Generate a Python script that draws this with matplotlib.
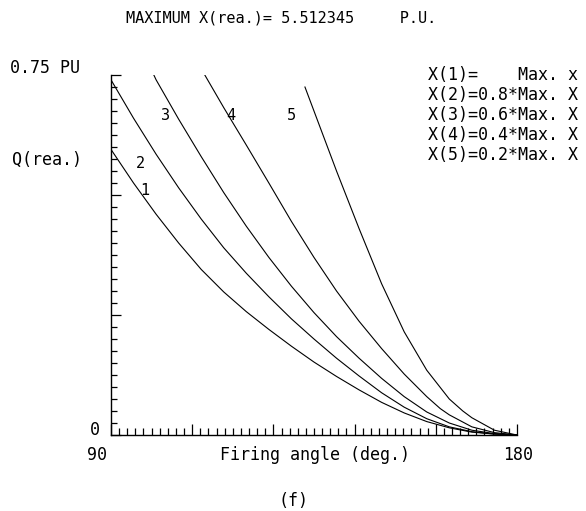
import matplotlib
matplotlib.use("Agg")
import matplotlib.pyplot as plt
import numpy as np

# firing angle (deg) and Q(rea.) in P.U.
ang1 = [90, 95, 100, 105, 110, 115, 120, 125, 130, 135, 140, 145, 150, 155, 160, 165, 170, 175, 180]
q1 = [0.595, 0.525, 0.46, 0.4, 0.345, 0.298, 0.257, 0.22, 0.185, 0.152, 0.122, 0.094, 0.068, 0.046, 0.028, 0.015, 0.006, 0.002, 0.0]
ang2 = [90, 95, 100, 105, 110, 115, 120, 125, 130, 135, 140, 145, 150, 155, 160, 165, 170, 175, 180]
q2 = [0.74, 0.66, 0.585, 0.515, 0.45, 0.39, 0.337, 0.288, 0.242, 0.2, 0.16, 0.123, 0.088, 0.058, 0.034, 0.017, 0.007, 0.002, 0.0]
ang3 = [99.5, 100, 105, 110, 115, 120, 125, 130, 135, 140, 145, 150, 155, 160, 165, 170, 175, 180]
q3 = [0.75, 0.74, 0.658, 0.58, 0.505, 0.435, 0.37, 0.31, 0.255, 0.205, 0.16, 0.118, 0.08, 0.048, 0.025, 0.01, 0.003, 0.0]
ang4 = [110.8, 115, 120, 125, 130, 135, 140, 145, 150, 155, 160, 163, 165, 170, 175, 180]
q4 = [0.75, 0.682, 0.604, 0.525, 0.445, 0.37, 0.3, 0.237, 0.18, 0.127, 0.08, 0.055, 0.042, 0.017, 0.005, 0.0]
ang5 = [133, 135, 140, 145, 150, 155, 160, 165, 168, 170, 175, 180]
q5 = [0.725, 0.675, 0.55, 0.43, 0.315, 0.215, 0.135, 0.075, 0.05, 0.036, 0.01, 0.0]

curve_labels = ["1", "2", "3", "4", "5"]
label_pos = [(97.5, 0.51), (96.5, 0.565), (102, 0.665), (116.5, 0.665), (130, 0.665)]
legend_lines = ["X(1)=    Max. x",
                "X(2)=0.8*Max. X",
                "X(3)=0.6*Max. X",
                "X(4)=0.4*Max. X",
                "X(5)=0.2*Max. X"]

mono = "DejaVu Sans Mono"
fig = plt.figure(figsize=(5.86, 5.11), dpi=100)
ax = fig.add_axes([0.1894, 0.1487, 0.6928, 0.7045])

for a, q in [(ang1, q1), (ang2, q2), (ang3, q3), (ang4, q4), (ang5, q5)]:
    ax.plot(a, q, color="black", lw=0.8)

ax.set_xlim(90, 180)
ax.set_ylim(0, 0.75)
ax.spines["top"].set_visible(False)
ax.spines["right"].set_visible(False)
ax.spines["left"].set_linewidth(1.0)
ax.spines["bottom"].set_linewidth(1.0)

ax.set_xticks(np.arange(90, 181, 18))
ax.set_xticks(np.arange(90, 180.1, 1.8), minor=True)
ax.set_yticks([0, 0.25, 0.5, 0.75])
ax.set_yticks(np.arange(0, 0.751, 0.025), minor=True)
ax.tick_params(which="both", direction="in", labelbottom=False, labelleft=False, width=0.9, color="black")
ax.tick_params(axis="x", which="major", length=8)
ax.tick_params(axis="x", which="minor", length=5)
ax.tick_params(axis="y", which="major", length=7)
ax.tick_params(axis="y", which="minor", length=4)

for lab, (x, y) in zip(curve_labels, label_pos):
    ax.text(x, y, lab, fontsize=11, family=mono, ha="center", va="center")

for i, line in enumerate(legend_lines):
    fig.text(0.987, 1 - (75 + i * 20) / 511, line, fontsize=12, family=mono, ha="right", va="center")

fig.text(0.48, 1 - 18 / 511, "MAXIMUM X(rea.)= 5.512345     P.U.", fontsize=11, family=mono, ha="center", va="center")
fig.text(10 / 586, 1 - 68 / 511, "0.75 PU", fontsize=12, family=mono, ha="left", va="center")
fig.text(12 / 586, 1 - 160 / 511, "Q(rea.)", fontsize=12, family=mono, ha="left", va="center")
fig.text(95 / 586, 1 - 430 / 511, "0", fontsize=12, family=mono, ha="center", va="center")
fig.text(97 / 586, 1 - 455 / 511, "90", fontsize=12, family=mono, ha="center", va="center")
fig.text(518 / 586, 1 - 455 / 511, "180", fontsize=12, family=mono, ha="center", va="center")
fig.text(315 / 586, 1 - 455 / 511, "Firing angle (deg.)", fontsize=12, family=mono, ha="center", va="center")
fig.text(293 / 586, 1 - 501 / 511, "(f)", fontsize=12, family=mono, ha="center", va="center")

fig.savefig("out.png", dpi=100)
